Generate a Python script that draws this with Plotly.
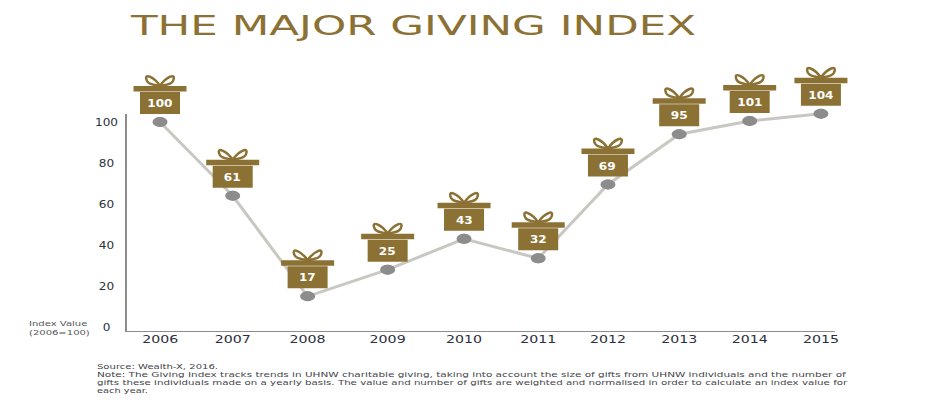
import json
import plotly.graph_objects as go

title = "THE MAJOR GIVING INDEX"
years = ["2006", "2007", "2008", "2009", "2010", "2011", "2012", "2013", "2014", "2015"]
# horizontal position of each year (the source spacing is uneven)
year_pos = [2006, 2006.99, 2008.01, 2009.1, 2010.14, 2011.15, 2012.1, 2013.07, 2014.03, 2015]
plotted = [100, 64, 15, 28, 43, 33.5, 69.5, 94, 100.5, 104]
gift_labels = ["100", "61", "17", "25", "43", "32", "69", "95", "101", "104"]
y_ticks = [0, 20, 40, 60, 80, 100]
axis_note = ["Index Value", "(2006=100)"]
footer = [
    "Source: Wealth-X, 2016.",
    "Note: The Giving Index tracks trends in UHNW charitable giving, taking into account the size of gifts from UHNW individuals and the number of",
    "gifts these individuals made on a yearly basis. The value and number of gifts are weighted and normalised in order to calculate an index value for",
    "each year.",
]

GOLD = "#8c7134"
GREY = "#8c8c8c"
INK = "#2b3040"
FONT = "DejaVu Sans"

L, R, T, B = 126, 84, 60, 70
W, H = 939 - L - R, 402 - T - B
Y_LOW, Y_AXIS_TOP, Y_TOP = -2.4, 103.9, 130.2
X_LOW, X_AXIS_END, X_TOP = 2005.537, 2015.19, 2015.464


def page_x(px):
    return (px - L) / W


def page_y(py):
    return 1 - (py - T) / H


fig = go.Figure(go.Scatter(
    x=year_pos, y=plotted, mode="lines+markers", cliponaxis=False,
    line=dict(color="#c9c7c1", width=3),
    marker=dict(color=GREY, size=10),
    hoverinfo="skip",
))

shapes = [
    dict(type="line", xref="paper", yref="y", x0=0, x1=0, y0=Y_LOW, y1=Y_AXIS_TOP, line=dict(color=GREY, width=2)),
    dict(type="line", xref="x", yref="y", x0=X_LOW, x1=X_AXIS_END, y0=Y_LOW, y1=Y_LOW, line=dict(color=GREY, width=2)),
]
annotations = []
for x, v, lab in zip(year_pos, plotted, gift_labels):
    common = dict(xref="x", yref="y", xsizemode="pixel", ysizemode="pixel", xanchor=x, yanchor=v)
    shapes += [
        dict(type="circle", x0=-7.5, x1=7.5, y0=-5, y1=5, fillcolor=GREY, line_width=0, **common),
        dict(type="rect", x0=-20, x1=20, y0=8, y1=30, fillcolor=GOLD, line_width=0, **common),
        dict(type="rect", x0=-26.5, x1=26.5, y0=30.5, y1=36, fillcolor=GOLD, line_width=0, **common),
        dict(type="path",
             path="M0,36 C-6,45 -17,50 -13,41 C-11,37 -5,37 0,36 C5,37 11,37 13,41 C17,50 6,45 0,36",
             line=dict(color=GOLD, width=2.5), **common),
    ]
    annotations.append(dict(x=x, y=v, xref="x", yref="y", yshift=19, text=f"<b>{lab}</b>", showarrow=False,
                            font=dict(family=FONT, size=10.5, color="white")))

for i, t in enumerate(axis_note):
    annotations.append(dict(x=page_x(60), y=page_y(323 + 9 * i), xref="paper", yref="paper",
                            yanchor="middle", text=t, showarrow=False,
                            font=dict(family=FONT, size=7.4, color="#55565c")))
for i, t in enumerate(footer):
    annotations.append(dict(x=page_x(470), y=page_y(366 + 8 * i), xref="paper", yref="paper",
                            yanchor="middle", text=t, showarrow=False,
                            font=dict(family=FONT, size=7.2, color="#44454b")))

fig.update_layout(
    width=939, height=402, autosize=False,
    paper_bgcolor="white", plot_bgcolor="white", showlegend=False,
    margin=dict(l=L, r=R, t=T, b=B),
    title=dict(text=title, x=130 / 939, xanchor="left", y=1 - 26 / 402, yanchor="middle",
               font=dict(family=FONT, size=26, color=GOLD)),
    xaxis=dict(range=[X_LOW, X_TOP], tickmode="array", tickvals=year_pos, ticktext=years,
               showgrid=False, zeroline=False, showline=False, ticks="",
               tickfont=dict(family=FONT, size=10.5, color=INK)),
    yaxis=dict(range=[Y_LOW, Y_TOP], tickmode="array", tickvals=y_ticks,
               showgrid=False, zeroline=False, showline=False, ticks="",
               ticklabelstandoff=6, tickfont=dict(family=FONT, size=10.5, color=INK)),
    shapes=shapes,
    annotations=annotations,
)

# left edge and width on the page for the texts that the source sets wide
extents = {title: [130, 567], footer[0]: [97, 121], footer[1]: [97, 750], footer[2]: [97, 750], footer[3]: [97, 51],
           axis_note[0]: [29, 59], axis_note[1]: [29, 61]}

stretch = """
(function(){
  document.body.style.margin='0';
  var ext=%s;
  function reset(t){
    if(t._orig===undefined){t._orig=t.getAttribute('transform')||'';}
    t.setAttribute('transform',t._orig);
  }
  function scaled(t,sx,ox,dx){
    var b=t.getBBox(), lx=b.x+b.width*ox;
    t.setAttribute('transform','translate('+dx+',0) translate('+lx+',0) scale('+sx+',1) translate('+(-lx)+',0) '+t._orig);
  }
  function toLeft(t,left,width){
    reset(t);
    var r=t.getBoundingClientRect(), sx=width/r.width;
    scaled(t,sx,0,0);
    r=t.getBoundingClientRect();
    scaled(t,sx,0,left-r.left);
  }
  function toCentre(t,sx,cx){
    reset(t);
    var r=t.getBoundingClientRect(), c=cx===null?r.left+r.width/2:cx;
    scaled(t,sx,0.5,0);
    r=t.getBoundingClientRect();
    scaled(t,sx,0.5,c-(r.left+r.width/2));
  }
  function fit(){
    document.querySelectorAll('.gtitle, .annotation-text').forEach(function(t){
      var e=ext[t.textContent];
      if(e){toLeft(t,e[0],e[1]);} else {toCentre(t,1.15,null);}
    });
    document.querySelectorAll('.xtick text').forEach(function(t){toCentre(t,1.35,null);});
    document.querySelectorAll('.ytick text').forEach(function(t){toCentre(t,1.15,106.5);});
  }
  fit();
})();
""" % json.dumps(extents)
fig.write_html("out.html", post_script=stretch, config=dict(displayModeBar=False))
